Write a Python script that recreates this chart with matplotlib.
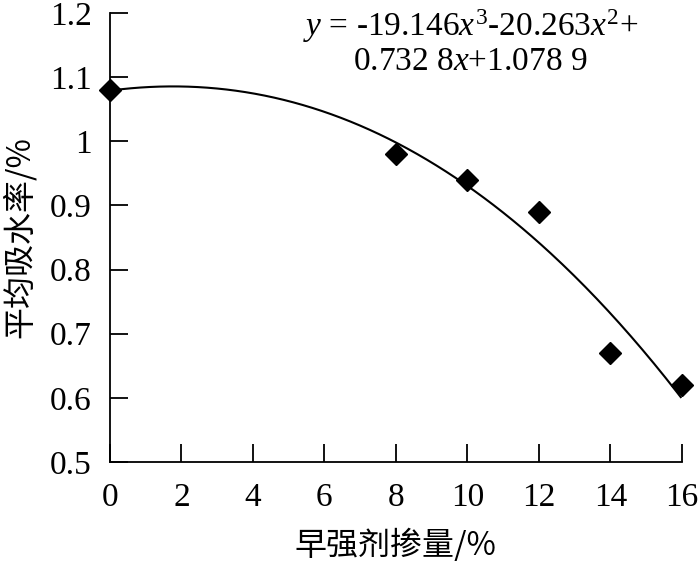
import numpy as np
import matplotlib
matplotlib.use("Agg")
import matplotlib.pyplot as plt

# Data
dosage = [0, 8, 10, 12, 14, 16]          # 早强剂掺量 /%
absorption = [1.08, 0.98, 0.94, 0.89, 0.67, 0.62]  # 平均吸水率 /%
coef = [-19.146, -20.263, 0.7328, 1.0789]  # cubic fit in fraction units
x_ticks = [0, 2, 4, 6, 8, 10, 12, 14, 16]
y_ticks = [0.5, 0.6, 0.7, 0.8, 0.9, 1.0, 1.1, 1.2]
y_tick_labels = ["0.5", "0.6", "0.7", "0.8", "0.9", "1", "1.1", "1.2"]

plt.rcParams['font.family'] = ['Liberation Serif', 'Noto Sans CJK SC']
plt.rcParams['mathtext.fontset'] = 'custom'
plt.rcParams['mathtext.rm'] = 'Liberation Serif'
plt.rcParams['mathtext.it'] = 'Liberation Serif:italic'

fig = plt.figure(figsize=(7, 5.61), dpi=100)
ax = fig.add_axes([0.157, 0.1765, 0.817, 0.8005])

xf = np.linspace(0, 15.97, 300)
yf = np.polyval(coef, xf / 100.0)
ax.plot(xf, yf, color='black', lw=1.5, zorder=2)
ax.plot(dosage, absorption, linestyle='none', marker='D', markersize=11,
        color='black', clip_on=False, zorder=3)

ax.set_xlim(0, 16)
ax.set_ylim(0.5, 1.2)
ax.set_xticks(x_ticks)
ax.set_xticklabels([str(t) for t in x_ticks])
ax.set_yticks(y_ticks)
ax.set_yticklabels(y_tick_labels)

for s in ['top', 'right']:
    ax.spines[s].set_visible(False)
for s in ['left', 'bottom']:
    ax.spines[s].set_linewidth(1.3)

ax.tick_params(direction='in', length=13, width=1.3, labelsize=24)
ax.tick_params(axis='x', pad=15)
ax.tick_params(axis='y', pad=13)

ax.set_xlabel('早强剂掺量/%', fontsize=23, family=['Noto Sans CJK SC'], labelpad=10)
ax.set_ylabel('平均吸水率/%', fontsize=23, family=['Noto Sans CJK SC'], labelpad=10)

ax.text(0.63, 1.012, r"$y$ = -19.146$x^3$-20.263$x^2$+" + "\n" + r"0.732 8$x$+1.078 9",
        transform=ax.transAxes, ha='center', va='top', fontsize=24,
        multialignment='center', linespacing=1.05)

fig.savefig('out.png', dpi=100)
